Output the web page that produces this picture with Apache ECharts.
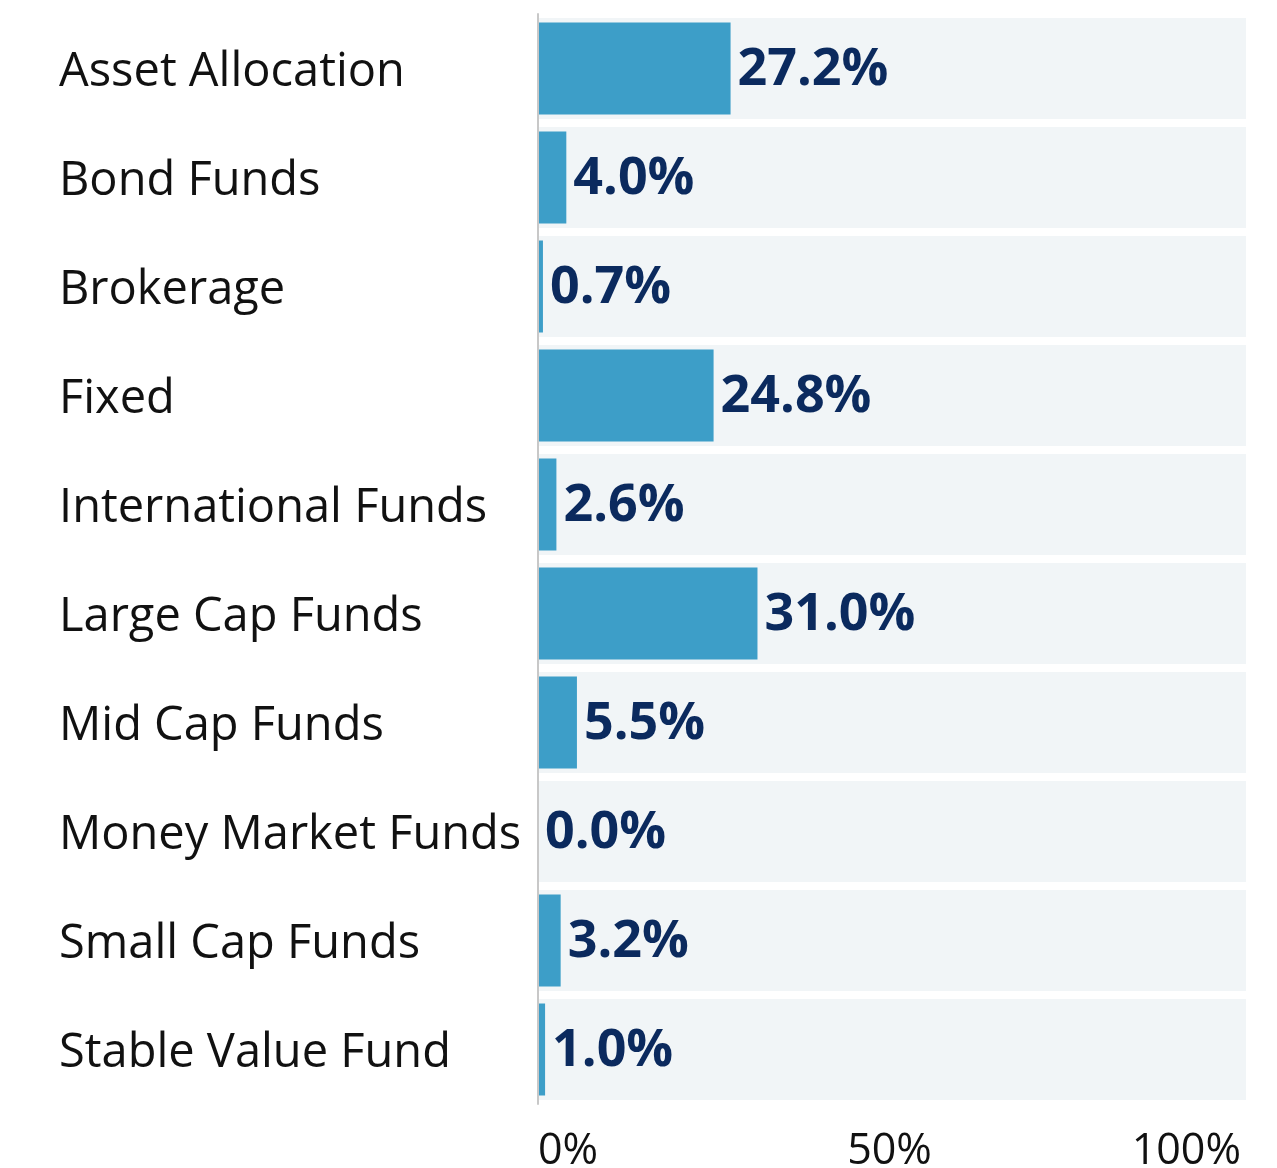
<!DOCTYPE html>
<html>
<head>
<meta charset="utf-8">
<script src="https://cdn.jsdelivr.net/npm/echarts@6/dist/echarts.min.js"></script>
<style>
  html, body { margin: 0; padding: 0; background: #fff; }
  #charts { width: 1277px; height: 1168px; }
</style>
</head>
<body>
<div id="charts"></div>
<script>
// data
const categories = ['Asset Allocation', 'Bond Funds', 'Brokerage', 'Fixed', 'International Funds',
  'Large Cap Funds', 'Mid Cap Funds', 'Money Market Funds', 'Small Cap Funds', 'Stable Value Fund']
const shares = [27.2, 4.0, 0.7, 24.8, 2.6, 31.0, 5.5, 0.0, 3.2, 1.0]
const fullBand = [100, 100, 100, 100, 100, 100, 100, 100, 100, 100]
const tickValues = [0, 50, 100]

const fontName = '"Open Sans", "Noto Sans", sans-serif'

let myChart = echarts.init(document.getElementById('charts'))

let option = {
  animation: false,
  grid: {
    left: 538,
    right: 31,
    top: 14,
    bottom: 64,
    outerBoundsMode: 'none'
  },
  xAxis: {
    type: 'value',
    min: tickValues[0],
    max: tickValues[tickValues.length - 1],
    interval: 50,
    splitLine: { show: false },
    axisLine: { show: false },
    axisTick: { show: false },
    axisLabel: {
      formatter: '{value}%',
      fontFamily: fontName,
      fontSize: 43,
      color: '#111',
      margin: 26,
      padding: [0, 5, 0, 0],
      alignMinLabel: 'left',
      alignMaxLabel: 'right'
    }
  },
  yAxis: [
    {
      type: 'category',
      inverse: true,
      data: categories,
      axisTick: { show: false },
      axisLine: { show: true, lineStyle: { color: '#c8c8c8', width: 2 } },
      axisLabel: {
        align: 'left',
        margin: 479,
        formatter: (v) => '{c|' + v + '}',
        rich: {
          c: {
            padding: [9, 0, 0, 0],
            fontFamily: fontName,
            fontSize: 47,
            color: '#111'
          }
        }
      },
      z: 5
    },
    {
      // hidden twin axis, only so the grey bands get their own width
      type: 'category',
      inverse: true,
      data: categories,
      show: false
    }
  ],
  series: [
    {
      name: 'band',
      type: 'bar',
      yAxisIndex: 1,
      silent: true,
      barWidth: 101,
      itemStyle: { color: '#f1f5f7' },
      data: fullBand,
      z: 1
    },
    {
      name: 'share',
      type: 'bar',
      yAxisIndex: 0,
      barWidth: 92,
      itemStyle: { color: '#3d9ec8' },
      label: {
        show: true,
        position: 'right',
        distance: 7,
        offset: [0, 2],
        formatter: (p) => p.value.toFixed(1) + '%',
        fontFamily: fontName,
        fontWeight: 'bold',
        fontSize: 52,
        color: '#0b2a5e'
      },
      data: shares,
      z: 3
    }
  ]
}

myChart.setOption(option)
</script>
</body>
</html>
